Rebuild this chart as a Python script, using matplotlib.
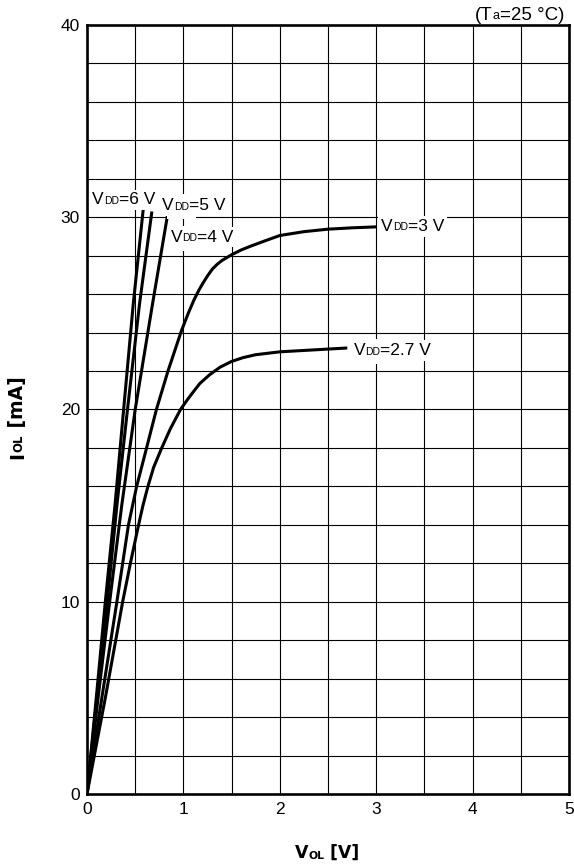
import numpy as np
from matplotlib import pyplot as plt

plt.rcParams["font.family"] = ["Liberation Sans", "DejaVu Sans"]

# curve data: V_OL [V], I_OL [mA]
v_6 = [0, 0.10, 0.19, 0.29, 0.38, 0.48, 0.583]
i_6 = [0, 5.2, 10, 15, 20, 25.5, 30.4]

v_5 = [0, 0.105, 0.21, 0.31, 0.42, 0.545, 0.673]
i_5 = [0, 5.1, 10, 15, 20, 25.5, 30.3]

v_4 = [0, 0.115, 0.235, 0.36, 0.50, 0.68, 0.835]
i_4 = [0, 5.0, 10, 15, 20, 25.5, 30.1]

v_3 = [0, 0.16, 0.31, 0.43, 0.515, 0.618, 0.72, 0.84, 0.98, 1.05, 1.11, 1.16,
       1.2, 1.25, 1.3, 1.35, 1.4, 1.5, 1.6, 1.7, 1.85, 2.0, 2.25, 2.5, 2.75, 3.0]
i_3 = [0, 5.2, 10, 14, 16, 18, 20, 22, 24.1, 25.0, 25.7, 26.2,
       26.55, 26.95, 27.3, 27.55, 27.75, 28.05, 28.3, 28.5, 28.78, 29.05, 29.25, 29.38, 29.45, 29.5]

v_27 = [0, 0.19, 0.37, 0.45, 0.535, 0.58, 0.632, 0.692, 0.775, 0.865, 0.97, 1.04,
        1.1, 1.17, 1.27, 1.38, 1.5, 1.62, 1.75, 2.0, 2.35, 2.7]
i_27 = [0, 5.0, 10, 12, 14, 15, 16, 17, 18, 19, 20, 20.5,
        20.9, 21.35, 21.8, 22.2, 22.5, 22.7, 22.85, 23.0, 23.1, 23.2]

# label text parts: (text, small?) and where they start (data coords, baseline)
curve_labels = [
    ([("V", False), ("DD", True), ("=6 V", False)], (0.052, 30.68)),
    ([("V", False), ("DD", True), ("=5 V", False)], (0.78, 30.37)),
    ([("V", False), ("DD", True), ("=4 V", False)], (0.866, 28.72)),
    ([("V", False), ("DD", True), ("=3 V", False)], (3.05, 29.29)),
    ([("V", False), ("DD", True), ("=2.7 V", False)], (2.764, 22.83)),
]

FS = 12.5
SMALL = 0.6
DESC = 0.21  # descent of the font, as fraction of size


def put_parts(ax, parts, xy, xycoords, size, weight="normal", rotation=0,
              small=SMALL, bg=False, family=None):
    """draw text made of normal and small-cap pieces one after the other"""
    if bg:
        # white boxes first, invisible text, so boxes never hide a glyph
        _chain(ax, parts, xy, xycoords, size, weight, rotation, small, family,
               color="white", bg=True, zorder=4.5)
    _chain(ax, parts, xy, xycoords, size, weight, rotation, small, family,
           color="black", bg=False, zorder=5)


def _chain(ax, parts, xy, xycoords, size, weight, rotation, small, family, color, bg, zorder):
    d = DESC * size * (1 - small)
    prev = None
    prev_small = False
    for txt, is_small in parts:
        fs = size * small if is_small else size
        bbox = None
        if bg:
            # small pieces get a bigger pad so the white box has one height
            pad = 0.7 if is_small else 0.15
            bbox = dict(boxstyle="square,pad=%g" % pad, fc="white", ec="none")
        kw = dict(fontsize=fs, fontweight=weight, rotation=rotation, bbox=bbox,
                  color=color, annotation_clip=False, zorder=zorder)
        if family is not None:
            kw["family"] = family
        if prev is None:
            if rotation == 90:
                prev = ax.annotate(txt, xy, xycoords=xycoords, ha="right", va="bottom", **kw)
            else:
                prev = ax.annotate(txt, xy, xycoords=xycoords, ha="left", va="baseline", **kw)
        else:
            # shift small pieces so that all baselines line up
            shift = d if is_small else (-d if prev_small else 0)
            if rotation == 90:
                prev = ax.annotate(txt, (1, 1), xycoords=prev, xytext=(-shift, 0),
                                   textcoords="offset points", ha="right", va="bottom", **kw)
            else:
                prev = ax.annotate(txt, (1, 0), xycoords=prev, xytext=(0, shift),
                                   textcoords="offset points", ha="left", va="bottom", **kw)
        prev_small = is_small
    return prev


fig = plt.figure(figsize=(5.74, 8.65), dpi=100)
ax = fig.add_axes([87 / 574, 1 - 794 / 865, 482 / 574, 769 / 865])

# curves
for v, i in [(v_6, i_6), (v_5, i_5), (v_4, i_4), (v_3, i_3), (v_27, i_27)]:
    ax.plot(v, i, color="black", lw=2.2, solid_capstyle="butt",
            solid_joinstyle="round", zorder=3)

# axis
ax.set_xlim(0, 5)
ax.set_ylim(0, 40)
ax.set_xticks(np.arange(0, 6, 1))
ax.set_xticks(np.arange(0, 5.01, 0.5), minor=True)
ax.set_yticks(np.arange(0, 41, 10))
ax.set_yticks(np.arange(0, 40.01, 2), minor=True)
ax.tick_params(which="both", length=0, labelsize=FS, colors="black")
ax.tick_params(axis="x", pad=6)
ax.tick_params(axis="y", pad=5)
ax.grid(which="both", color="black", lw=0.8)
ax.set_axisbelow(True)
for sp in ax.spines.values():
    sp.set_linewidth(1.9)
    sp.set_zorder(4)

# curve labels
for parts, pos in curve_labels:
    put_parts(ax, parts, pos, "data", FS, bg=True)

# condition note
put_parts(ax, [("(T", False), ("a", True), ("=25 °C)", False)], (475, 865 - 19.5),
          "figure pixels", 13.5, small=0.68)

# axis titles (wider bold face, like the reference)
bold_family = ["DejaVu Sans"]
put_parts(ax, [("V", False), ("OL", True), (" [V]", False)], (295, 865 - 858),
          "figure pixels", 12.5, weight="bold", small=0.62, family=bold_family)
put_parts(ax, [("I", False), ("OL", True), (" [mA]", False)], (27, 865 - 459),
          "figure pixels", 13.5, weight="bold", rotation=90, small=0.62, family=bold_family)

plt.savefig("out.png", dpi=100)
